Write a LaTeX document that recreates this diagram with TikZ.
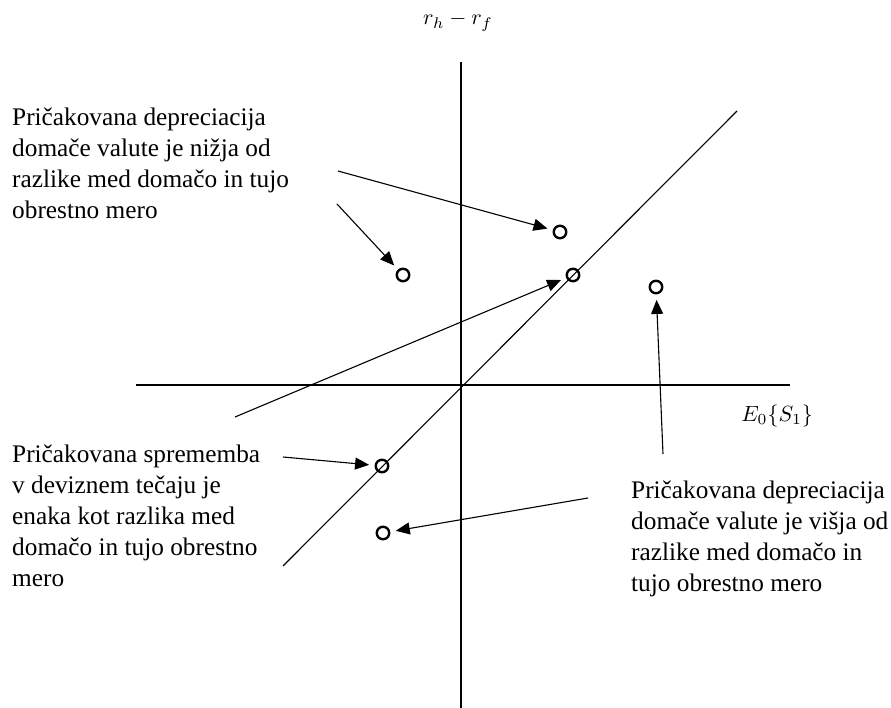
\documentclass[tikz,border=0pt]{standalone}
\usepackage{fontspec}
\setmainfont{Liberation Serif}
\usetikzlibrary{arrows.meta}
\begin{document}
\begin{tikzpicture}[x=1pt,y=-1pt,
  axis/.style={line width=2pt},
  diag/.style={line width=1.1pt},
  ptr/.style={line width=1.1pt,-{Triangle[length=14pt,width=12pt]},shorten >=5.5pt},
  dot/.style={circle,draw,line width=2.4pt,minimum size=12.5pt,inner sep=0pt},
  lbl/.style={align=left,anchor=base west,inner sep=0pt,font=\fontsize{25.3pt}{31pt}\selectfont},
  mlbl/.style={inner sep=0pt,scale=2.2}]
\useasboundingbox (0,0) rectangle (891,708);
% axes
\coordinate (ytop) at (461,62);
\coordinate (ybot) at (461,708);
\coordinate (xl) at (136,385);
\coordinate (xr) at (790,385);
\draw[axis] (ybot) -- (ytop);
\draw[axis] (xl) -- (xr);
% diagonal
\coordinate (d1) at (283,566);
\coordinate (d2) at (737,111);
\draw[diag] (d1) -- (d2);
% axis labels
\node[mlbl,anchor=base] (ylab) at (458,25) {$r_h - r_f$};
\node[mlbl,anchor=base west] (xlab) at (741,421) {$E_0\{S_1\}$};
% circles
\node[dot] (c1) at (560,232) {};
\node[dot] (c2) at (403,275) {};
\node[dot] (c3) at (573,275) {};
\node[dot] (c4) at (656,287) {};
\node[dot] (c5) at (382,466) {};
\node[dot] (c6) at (383,533) {};
% texts (anchor = baseline of last line)
\node[lbl] (t1) at (12,219) {Pričakovana depreciacija\\domače valute je nižja od\\razlike med domačo in tujo\\obrestno mero};
\node[lbl] (t2) at (12,586) {Pričakovana sprememba\\v deviznem tečaju je\\enaka kot razlika med\\domačo in tujo obrestno\\mero};
\node[lbl] (t3) at (631,591) {Pričakovana depreciacija\\domače valute je višja od\\razlike med domačo in\\tujo obrestno mero};
% arrow starts
\coordinate (s1) at (338,171);
\coordinate (s2) at (337,204);
\coordinate (s3) at (235,417);
\coordinate (s4) at (663,454);
\coordinate (s5) at (588,498);
\coordinate (s6) at (283,457);
\draw[ptr] (s1) -- (c1);
\draw[ptr] (s2) -- (c2);
\draw[ptr] (s3) -- (c3);
\draw[ptr] (s4) -- (c4);
\draw[ptr] (s5) -- (c6);
\draw[ptr] (s6) -- (c5);
\end{tikzpicture}
\end{document}
